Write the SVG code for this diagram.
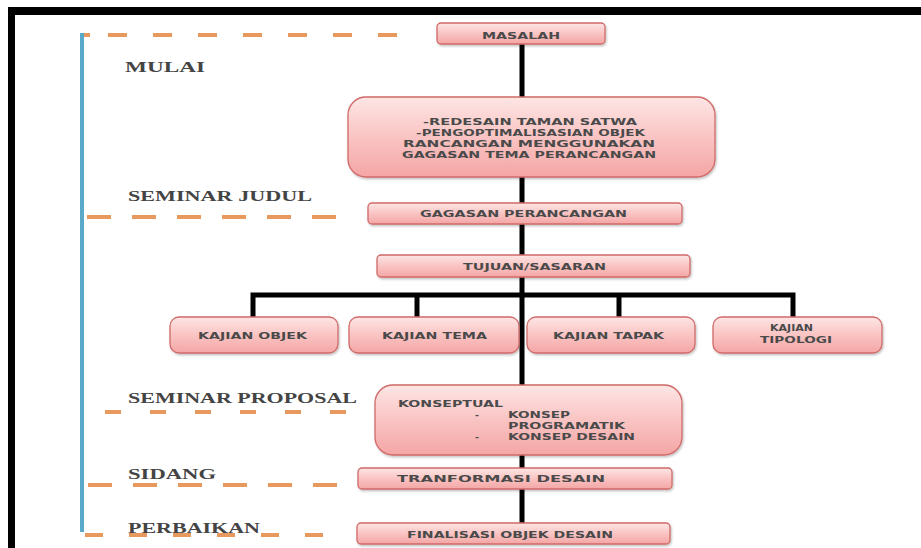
<svg xmlns="http://www.w3.org/2000/svg" width="921" height="548" viewBox="0 0 921 548">
<defs>
<linearGradient id="pink" x1="0" y1="0" x2="0" y2="1">
<stop offset="0" stop-color="#FDE6E5"/>
<stop offset="0.5" stop-color="#F9C4C3"/>
<stop offset="1" stop-color="#F4A6A5"/>
</linearGradient>
<filter id="sh" x="-10%" y="-20%" width="120%" height="150%">
<feDropShadow dx="1" dy="1.5" stdDeviation="1.2" flood-color="#000" flood-opacity="0.25"/>
</filter>
</defs>
<style>
.box{fill:url(#pink);stroke:#D06A68;stroke-width:1.3;filter:url(#sh)}
.t{font-family:"DejaVu Sans",Verdana,sans-serif;font-weight:bold;font-size:9.5px;fill:#4A4A4A}
.stage{font-family:"Liberation Serif","Times New Roman",serif;font-weight:bold;font-size:14px;fill:#444}
.dash{stroke:#E8995E;stroke-width:4;fill:none}
.conn{stroke:#000;stroke-width:5;fill:none}
</style>
<rect width="921" height="548" fill="#fff"/>
<g id="frame">
<rect x="8" y="7" width="913" height="8" fill="#000"/>
<rect x="8" y="7" width="7" height="541" fill="#000"/>
</g>
<g id="timeline">
<line x1="82" y1="33" x2="82" y2="532" stroke="#5AA9C9" stroke-width="4"/>
<line class="dash" x1="84" y1="35" x2="90" y2="35"/>
<line class="dash" x1="108" y1="35" x2="405" y2="35" stroke-dasharray="19 26"/>
<line class="dash" x1="87" y1="217" x2="338" y2="217" stroke-dasharray="24 21"/>
<line class="dash" x1="105" y1="412" x2="352" y2="412" stroke-dasharray="16 29"/>
<line class="dash" x1="88" y1="485" x2="338" y2="485" stroke-dasharray="24 21"/>
<line class="dash" x1="85" y1="535" x2="325" y2="535" stroke-dasharray="18 26"/>
<text class="stage" x="125" y="72" textLength="80" lengthAdjust="spacingAndGlyphs">MULAI</text>
<text class="stage" x="128" y="201" textLength="184" lengthAdjust="spacingAndGlyphs">SEMINAR JUDUL</text>
<text class="stage" x="128" y="403" textLength="229" lengthAdjust="spacingAndGlyphs">SEMINAR PROPOSAL</text>
<text class="stage" x="128" y="479" textLength="88" lengthAdjust="spacingAndGlyphs">SIDANG</text>
<text class="stage" x="128" y="533" textLength="132" lengthAdjust="spacingAndGlyphs">PERBAIKAN</text>
</g>
<g id="connectors">
<line class="conn" x1="522" y1="44" x2="522" y2="523"/>
<polyline class="conn" points="253,317 253,295 793,295 793,317"/>
<line class="conn" x1="417" y1="295" x2="417" y2="317"/>
<line class="conn" x1="619" y1="295" x2="619" y2="317"/>
</g>
<g id="masalah">
<rect class="box" x="437" y="23" width="168" height="21" rx="4"/>
<text class="t" x="482" y="38.5" textLength="78" lengthAdjust="spacingAndGlyphs">MASALAH</text>
</g>
<g id="redesain">
<rect class="box" x="348" y="97" width="367" height="80" rx="18"/>
<text class="t" x="423" y="124.5" textLength="214" lengthAdjust="spacingAndGlyphs">-REDESAIN  TAMAN  SATWA</text>
<text class="t" x="416" y="136" textLength="229" lengthAdjust="spacingAndGlyphs">-PENGOPTIMALISASIAN  OBJEK</text>
<text class="t" x="403" y="147" textLength="252" lengthAdjust="spacingAndGlyphs">RANCANGAN  MENGGUNAKAN</text>
<text class="t" x="402" y="158" textLength="254" lengthAdjust="spacingAndGlyphs">GAGASAN  TEMA  PERANCANGAN</text>
</g>
<g id="gagasan">
<rect class="box" x="368" y="203" width="314" height="21" rx="4"/>
<text class="t" x="420" y="216.5" textLength="207" lengthAdjust="spacingAndGlyphs">GAGASAN  PERANCANGAN</text>
</g>
<g id="tujuan">
<rect class="box" x="377" y="255" width="313" height="22" rx="4"/>
<text class="t" x="463" y="269.5" textLength="143" lengthAdjust="spacingAndGlyphs">TUJUAN/SASARAN</text>
</g>
<g id="kajian-objek">
<rect class="box" x="170" y="317" width="168" height="36" rx="9"/>
<text class="t" x="198" y="338.5" textLength="109" lengthAdjust="spacingAndGlyphs">KAJIAN  OBJEK</text>
</g>
<g id="kajian-tema">
<rect class="box" x="349" y="317" width="170" height="36" rx="9"/>
<text class="t" x="382" y="338.5" textLength="105" lengthAdjust="spacingAndGlyphs">KAJIAN  TEMA</text>
</g>
<g id="kajian-tapak">
<rect class="box" x="527" y="317" width="168" height="36" rx="9"/>
<text class="t" x="553" y="338.5" textLength="111" lengthAdjust="spacingAndGlyphs">KAJIAN  TAPAK</text>
</g>
<g id="kajian-tipologi">
<rect class="box" x="713" y="317" width="169" height="36" rx="9"/>
<text class="t" x="770" y="330.5" textLength="43" lengthAdjust="spacingAndGlyphs">KAJIAN</text>
<text class="t" x="760" y="342.5" textLength="72" lengthAdjust="spacingAndGlyphs">TIPOLOGI</text>
</g>
<g id="konseptual">
<rect class="box" x="375" y="385" width="307" height="70" rx="18"/>
<text class="t" x="398" y="406.5" textLength="105" lengthAdjust="spacingAndGlyphs">KONSEPTUAL</text>
<text class="t" x="475" y="417.5">-</text>
<text class="t" x="508" y="417.5" textLength="62" lengthAdjust="spacingAndGlyphs">KONSEP</text>
<text class="t" x="508" y="428.5" textLength="117" lengthAdjust="spacingAndGlyphs">PROGRAMATIK</text>
<text class="t" x="475" y="439.5">-</text>
<text class="t" x="508" y="439.5" textLength="127" lengthAdjust="spacingAndGlyphs">KONSEP  DESAIN</text>
</g>
<g id="transformasi">
<rect class="box" x="358" y="468" width="314" height="21" rx="4"/>
<text class="t" x="397" y="482" textLength="208" lengthAdjust="spacingAndGlyphs">TRANFORMASI  DESAIN</text>
</g>
<g id="finalisasi">
<rect class="box" x="357" y="523" width="313" height="21" rx="4"/>
<text class="t" x="407" y="537.5" textLength="206" lengthAdjust="spacingAndGlyphs">FINALISASI  OBJEK  DESAIN</text>
</g>
</svg>
